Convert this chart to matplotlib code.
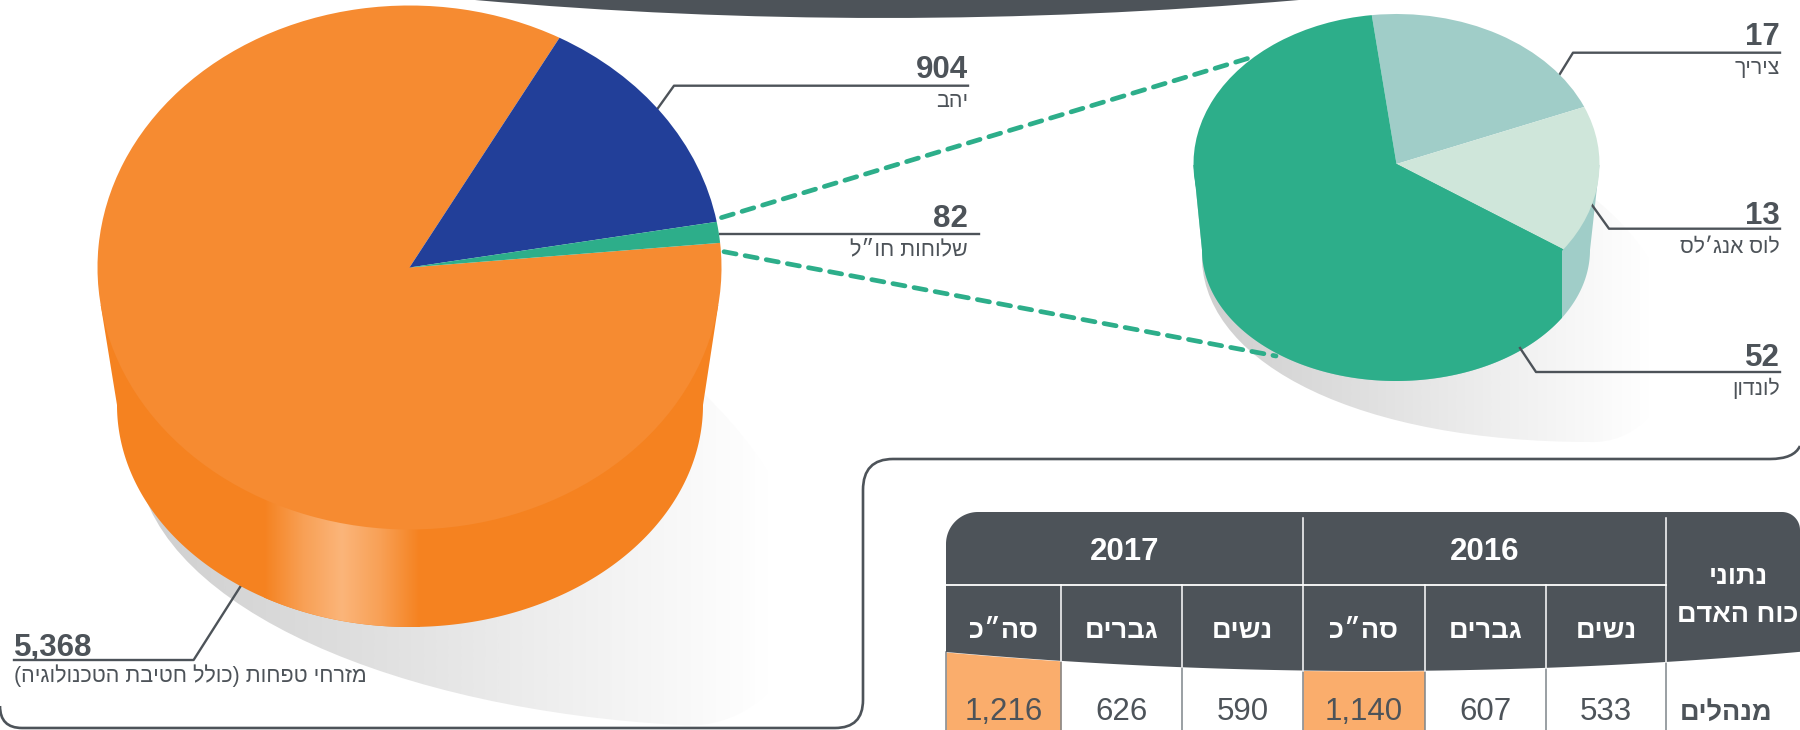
import numpy as np
import matplotlib
matplotlib.use('Agg')
import matplotlib.pyplot as plt
from matplotlib.patches import PathPatch, Polygon
from matplotlib.path import Path
from matplotlib.colors import LinearSegmentedColormap

plt.rcParams['font.family'] = ['Liberation Sans', 'DejaVu Sans']

W, H = 1800, 730
DARK = '#4d5359'
GREEN = '#2dae8a'
ORANGE_TOP = '#f68b31'
ORANGE_SIDE = '#f58220'
TEAL = '#a0cdc8'
MINT = '#cfe6da'
BLUE = '#223f99'
TOTAL_BG = '#faad6c'

# pie values, clockwise from the start angle
main_values = [5368, 904, 82]
main_colors = [ORANGE_TOP, BLUE, GREEN]
main_labels = ['5,368', '904', '82']
main_names = ['מזרחי טפחות (כולל חטיבת הטכנולוגיה)', 'יהב', 'שלוחות חו״ל']

branch_values = [17, 13, 52]
branch_colors = [TEAL, MINT, GREEN]
branch_labels = ['17', '13', '52']
branch_names = ['ציריך', 'לוס אנג׳לס', 'לונדון']

# table
years = ['2017', '2016']
columns = ['סה״כ', 'גברים', 'נשים', 'סה״כ', 'גברים', 'נשים']
row_name = 'מנהלים'
row_values = ['1,216', '626', '590', '1,140', '607', '533']
corner_title = ['נתוני', 'כוח האדם']


def he(s):
    # matplotlib has no bidi, so flip to visual order
    return s[::-1].translate(str.maketrans('()', ')('))


def ellipse(cx, cy, rx, ry, a0, a1, n=200):
    t = np.radians(np.linspace(a0, a1, n))
    return np.column_stack([cx + rx * np.cos(t), cy - ry * np.sin(t)])


def side_poly(top, bottom, shoulder_y):
    # top/bottom = (cx, cy, rx, ry), image y goes down so 180..360 is the lower half
    cx, cy, rx, ry = top
    half = rx * np.sqrt(1 - ((shoulder_y - cy) / ry) ** 2)
    arc = ellipse(*bottom, 180, 360)
    return np.vstack([[cx, cy], [cx - half, shoulder_y], arc, [cx + half, shoulder_y]])


def gradient(ax, stops, x0, x1, clip, zorder=1):
    cmap = LinearSegmentedColormap.from_list('g', stops)
    img = ax.imshow(np.linspace(0, 1, 512)[None, :], cmap=cmap, extent=(x0, x1, H, 0),
                    aspect='auto', zorder=zorder, interpolation='bilinear')
    img.set_clip_path(clip)
    return img


def bezier_shadow(p0, p1, p2, p3, q1, q2, q3):
    # lower edge, round the right side, then closed behind the pie
    verts = [p0, p1, p2, p3, q1, q2, q3, (p0[0], q3[1]), p0]
    codes = [Path.MOVETO] + [Path.CURVE4] * 6 + [Path.LINETO, Path.CLOSEPOLY]
    return PathPatch(Path(verts, codes), transform=ax.transData)


def pie_axes(fig, top, values, colors, startangle):
    cx, cy, rx, ry = top
    a = fig.add_axes([(cx - rx) / W, 1 - (cy + ry) / H, 2 * rx / W, 2 * ry / H], zorder=2)
    a.pie(values, colors=colors, startangle=startangle, counterclock=False, radius=1,
          wedgeprops={'linewidth': 0})
    a.set_aspect('auto')
    a.set_xlim(-1, 1)
    a.set_ylim(-1, 1)
    a.axis('off')
    return a


fig = plt.figure(figsize=(W / 100, H / 100), dpi=100, facecolor='white')
ax = fig.add_axes([0, 0, 1, 1], zorder=1)
ax.set_xlim(0, W)
ax.set_ylim(H, 0)
ax.axis('off')

# top dark band
band = Path([(475, 0), (880, 36), (1299, 0), (475, 0)],
            [Path.MOVETO, Path.CURVE3, Path.CURVE3, Path.CLOSEPOLY])
ax.add_patch(PathPatch(band, fc=DARK, ec='none', zorder=1))

# panel outline
frame = Path([(0, 706), (0, 728), (22, 728), (835, 728), (863, 728), (863, 700), (863, 490),
              (863, 459), (893, 459), (1770, 459), (1794, 459), (1800, 446)],
             [Path.MOVETO, Path.CURVE3, Path.CURVE3, Path.LINETO, Path.CURVE3, Path.CURVE3,
              Path.LINETO, Path.CURVE3, Path.CURVE3, Path.LINETO, Path.CURVE3, Path.CURVE3])
ax.add_patch(PathPatch(frame, fc='none', ec=DARK, lw=1.9, zorder=1.2))

shadow_stops = ['#cfcfcf', '#dedede', '#efefef', '#ffffff']

# main pie: shadow, side, highlight
main_top = (409.5, 267.5, 312, 262)
main_bottom = (410, 405, 293, 222)
shadow = bezier_shadow((138, 470), (160, 610), (400, 710), (680, 725),
                       (800, 735), (880, 560), (700, 390))
gradient(ax, shadow_stops, 140, 770, shadow, zorder=1)
main_side = side_poly(main_top, main_bottom, 305)
ax.add_patch(Polygon(main_side, fc=ORANGE_SIDE, ec='none', zorder=2))
side_clip = Polygon(main_side, closed=True, transform=ax.transData)
gradient(ax, [ORANGE_SIDE, '#f8a055', '#fbb57a', '#f8a055', ORANGE_SIDE], 264, 420, side_clip, zorder=3)

# branch pie: shadow, side
branch_top = (1396.5, 164, 203, 150)
branch_bottom = (1396, 250, 194, 131)
shadow2 = bezier_shadow((1202, 262), (1208, 365), (1360, 442), (1590, 442),
                        (1680, 445), (1720, 300), (1596, 200))
gradient(ax, shadow_stops, 1202, 1650, shadow2, zorder=1)
branch_side = side_poly(branch_top, branch_bottom, 165)
ax.add_patch(Polygon(branch_side, fc=TEAL, ec='none', zorder=2))
green_side = Polygon(branch_side, fc=GREEN, ec='none', zorder=3)
ax.add_patch(green_side)
green_side.set_clip_path(Path([(0, 0), (1561.7, 0), (1561.7, H), (0, H), (0, 0)]), ax.transData)

# connector lines
for xs, ys in [((721.5, 1253.6), (217.6, 56.7)), ((724, 1276), (251.7, 356))]:
    ax.plot(xs, ys, color=GREEN, lw=3.4, linestyle=(0, (2.6, 1.95)), dash_capstyle='round', zorder=4)

pie_axes(fig, main_top, main_values, main_colors, 5.4)
pie_axes(fig, branch_top, branch_values, branch_colors, 97)

# callouts: tip, elbow, far end of rule, value baseline, name baseline
main_calls = [
    ((242, 584), (193.6, 660), 14, 656, 682),
    ((656.6, 110), (674, 85.7), 968, 78, 107),
    ((720, 234), (720, 234), 979, 227, 255),
]
for idx, (tip, elbow, end, b0, b1) in enumerate(main_calls):
    ax.plot([tip[0], elbow[0], end], [tip[1], elbow[1], elbow[1]], color=DARK, lw=1.7, zorder=1.5)
    x, ha = (14, 'left') if idx == 0 else (968, 'right')
    ax.text(x, b0, main_labels[idx], ha=ha, va='baseline', fontsize=22.5, fontweight='bold', color=DARK, zorder=5)
    ax.text(x, b1, he(main_names[idx]), ha=ha, va='baseline', fontsize=15.5, color=DARK, zorder=5)

branch_calls = [
    ((1558, 77), (1573, 52.7), 45, 74),
    ((1592, 205), (1609, 228.7), 224, 253),
    ((1520, 348), (1536, 372), 366, 395),
]
for idx, (tip, elbow, b0, b1) in enumerate(branch_calls):
    ax.plot([tip[0], elbow[0], 1780], [tip[1], elbow[1], elbow[1]], color=DARK, lw=1.7, zorder=4)
    ax.text(1780, b0, branch_labels[idx], ha='right', va='baseline', fontsize=22.5, fontweight='bold', color=DARK, zorder=5)
    ax.text(1780, b1, he(branch_names[idx]), ha='right', va='baseline', fontsize=15.2, color=DARK, zorder=5)

# table on its own axes above the rest
tb = fig.add_axes([0, 0, 1, 1], zorder=3)
tb.set_xlim(0, W)
tb.set_ylim(H, 0)
tb.axis('off')
tb.patch.set_alpha(0)

col_x = [946, 1061, 1182, 1303, 1424.5, 1546, 1666, 1800]
head_top, head_rule, rad = 512, 585, 32


def head_curve(x):
    return 671 - 19 * ((np.asarray(x, float) - 1372) / 426) ** 2


xs = np.linspace(col_x[-1], col_x[0], 200)
head = [(col_x[0], head_top + rad)]
head += [tuple(p) for p in ellipse(col_x[0] + rad, head_top + rad, rad, rad, 180, 90, 30)]
head += [tuple(p) for p in ellipse(col_x[-1] - 18, head_top + 18, 18, 18, 90, 0, 20)]
head += list(zip(xs, head_curve(xs)))

# orange total columns under the curve
for i in (0, 3):
    bx = np.linspace(col_x[i], col_x[i + 1], 30)
    tb.fill_between(bx, head_curve(bx), H, color=TOTAL_BG, lw=0, zorder=1)
tb.add_patch(Polygon(head, closed=True, fc=DARK, ec='none', zorder=2))

for i, x in enumerate(col_x[:-1]):
    y_head = head_curve(x)
    if i > 0:
        top = 518 if i in (3, 6) else head_rule
        tb.plot([x, x], [top, y_head], color='white', lw=1.1, zorder=3)
    tb.plot([x, x], [y_head, H], color='#7f858a', lw=1.1, zorder=1.5)
tb.plot([col_x[0], col_x[6]], [head_rule, head_rule], color='white', lw=1.3, zorder=3)

for i, year in enumerate(years):
    tb.text((col_x[i * 3] + col_x[i * 3 + 3]) / 2, 552, year, ha='center', va='center',
            fontsize=22.5, fontweight='bold', color='white', zorder=4)
for i, name in enumerate(columns):
    cx = (col_x[i] + col_x[i + 1]) / 2
    tb.text(cx, 631, he(name), ha='center', va='center', fontsize=19.5, fontweight='bold', color='white', zorder=4)
    tb.text(cx, 712, row_values[i], ha='center', va='center', fontsize=22.5, color=DARK, zorder=4)
tb.text(1738, 577, he(corner_title[0]), ha='center', va='center', fontsize=19.5, fontweight='bold', color='white', zorder=4)
tb.text(1738, 615, he(corner_title[1]), ha='center', va='center', fontsize=19.5, fontweight='bold', color='white', zorder=4)
tb.text(1726, 713, he(row_name), ha='center', va='center', fontsize=19.5, fontweight='bold', color=DARK, zorder=4)

fig.savefig('out.png', dpi=100, facecolor='white')
